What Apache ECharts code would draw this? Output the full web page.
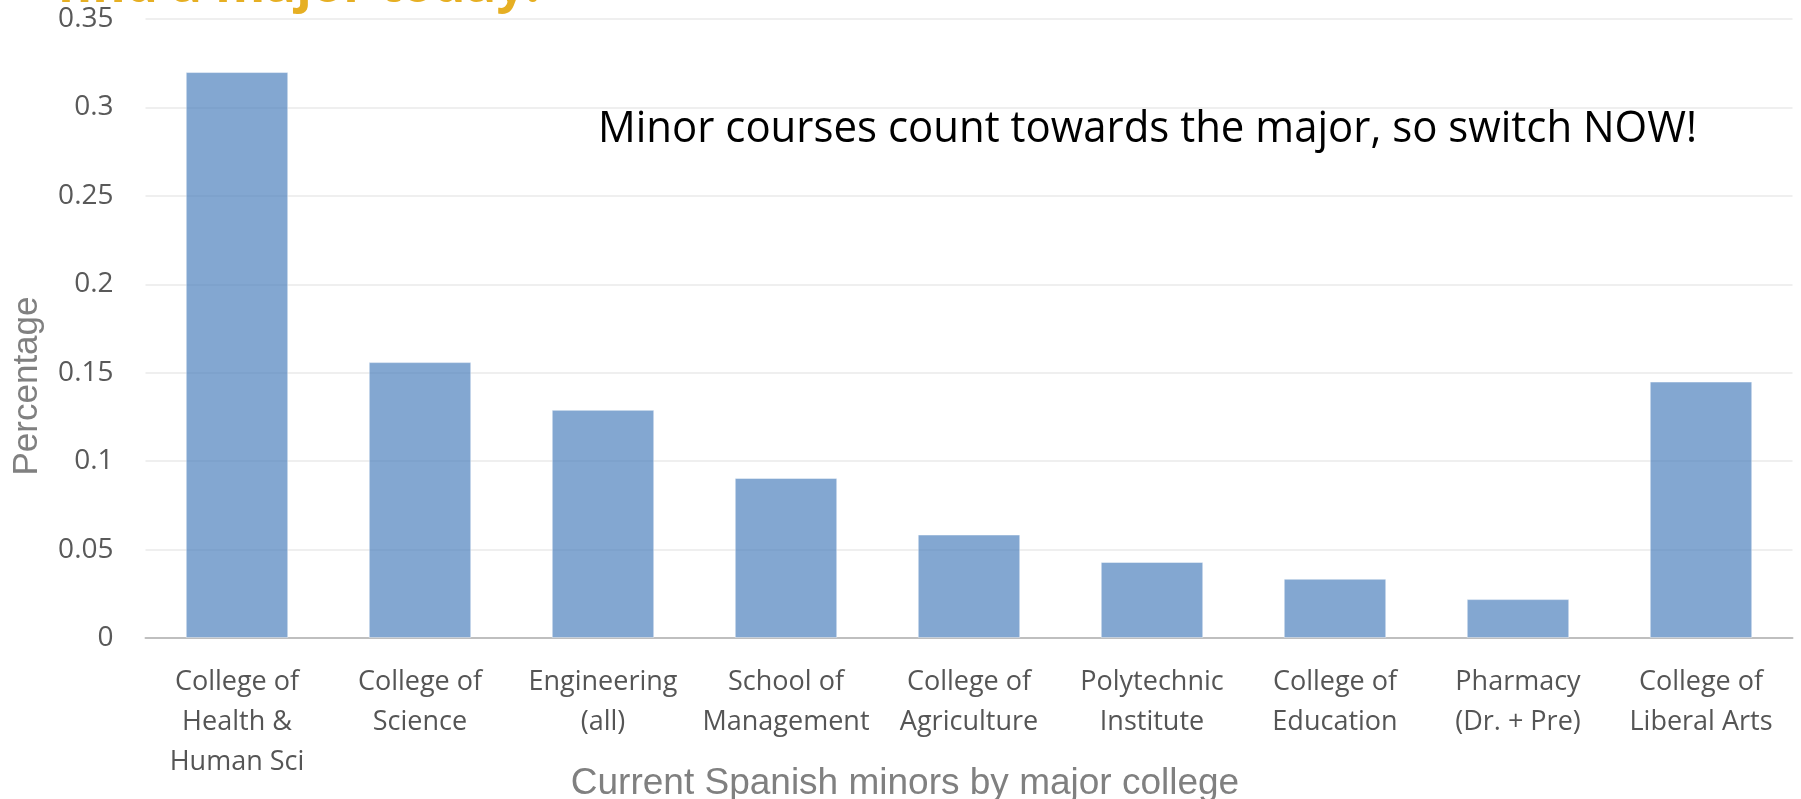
<!DOCTYPE html>
<html><head><meta charset="utf-8">
<script src="https://cdn.jsdelivr.net/npm/echarts@6/dist/echarts.min.js"></script>
<style>html,body{margin:0;padding:0;background:#fff}#c{width:1801px;height:799px}</style>
</head><body><div id="c"></div>
<script>
const categories = ['College of\nHealth &\nHuman Sci','College of\nScience','Engineering\n(all)','School of\nManagement','College of\nAgriculture','Polytechnic\nInstitute','College of\nEducation','Pharmacy\n(Dr. + Pre)','College of\nLiberal Arts'];
const values = [0.32, 0.156, 0.129, 0.0905, 0.0585, 0.043, 0.0335, 0.022, 0.145];
const yTicks = [0, 0.05, 0.1, 0.15, 0.2, 0.25, 0.3, 0.35];
const titleText = 'find a major today!';
const noteText = 'Minor courses count towards the major, so switch NOW!';
const xTitle = 'Current Spanish minors by major college';
const yTitle = 'Percentage';

function fitScale(text, font, target){
  const ctx = document.createElement('canvas').getContext('2d');
  ctx.font = font;
  return target / ctx.measureText(text).width;
}
const noteFont = '44px "Open Sans",sans-serif';
const titleFont = 'bold 50px "Open Sans",sans-serif';
const noteScale = fitScale(noteText, noteFont, 1099);
const titleScale = fitScale(titleText, titleFont, 483);

const chart = echarts.init(document.getElementById('c'));
chart.setOption({
  animation:false,
  grid:{left:145.5, right:8.5, top:19, bottom:161, containLabel:false},
  xAxis:{type:'category', data:categories,
    axisLine:{lineStyle:{color:'#BFBFBF', width:2}},
    axisTick:{show:false},
    axisLabel:{color:'#555555', fontFamily:'"Open Sans",sans-serif', fontSize:27, lineHeight:40, margin:24, interval:0}
  },
  yAxis:{type:'value', min:0, max:0.35, interval:0.05,
    axisLine:{show:false}, axisTick:{show:false},
    splitLine:{lineStyle:{color:'#EFEFEF', width:2}},
    axisLabel:{color:'#595959', fontFamily:'"Open Sans",sans-serif', fontSize:28, margin:32,
      formatter:v=>{const t=yTicks.find(x=>Math.abs(x-v)<1e-9); return t===undefined?'':String(t);}}
  },
  series:[{type:'bar', data:values, barCategoryGap:'44%',
    itemStyle:{color:'rgba(79,129,189,0.7)', borderColor:'rgba(255,255,255,0.45)', borderWidth:1}}],
  graphic:[
    {type:'text', x:57, y:-12, scaleX:titleScale, style:{text:titleText, fill:'#E6AF23', font:titleFont, align:'left', verticalAlign:'middle'}},
    {type:'text', x:598, y:129, scaleX:noteScale, style:{text:noteText, fill:'#000', font:noteFont, align:'left', verticalAlign:'middle'}},
    {type:'text', x:905, y:784, style:{text:xTitle, fill:'#808080', font:'37px "Liberation Sans",Arial,sans-serif', align:'center', verticalAlign:'middle'}},
    {type:'text', x:27, y:386, rotation:Math.PI/2, style:{text:yTitle, fill:'#808080', font:'35px "Liberation Sans",Arial,sans-serif', align:'center', verticalAlign:'middle'}}
  ]
});
</script></body></html>
